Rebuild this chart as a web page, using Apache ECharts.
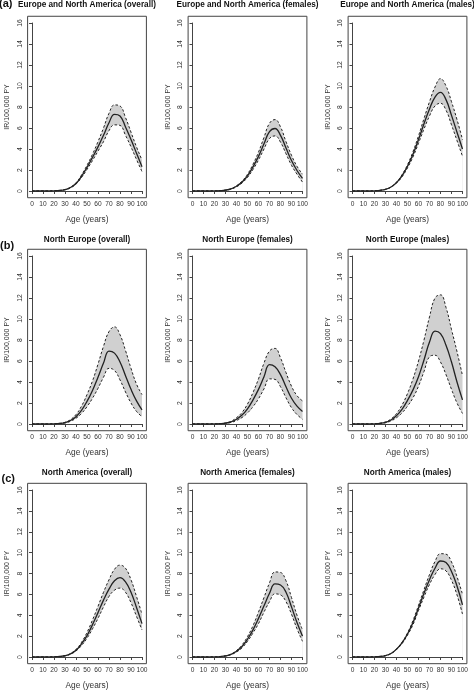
<!DOCTYPE html>
<html>
<head>
<meta charset="utf-8">
<script src="https://cdn.jsdelivr.net/npm/echarts@6/dist/echarts.min.js"></script>
<style>
html,body{margin:0;padding:0;background:#fff;}
#chart{width:474px;height:693px;}
</style>
</head>
<body>
<div id="chart"></div>
<script>
// Age (years) at which the curves are read
const ages = [0,5,10,15,20,25,30,35,40,45,50,55,60,65,70,75,80,85,90,95,100];

// (a) Europe and North America
const euNaOverallMean  = [0,0,0,0,0.02,0.05,0.13,0.33,0.72,1.4,2.25,3.2,4.2,5.3,6.5,7.3,7.15,6.1,4.9,3.6,2.3];
const euNaOverallUpper = [0,0,0,0,0.02,0.05,0.14,0.36,0.78,1.52,2.45,3.5,4.7,6.0,7.4,8.2,8.1,7.0,5.6,4.2,2.95];
const euNaOverallLower = [0,0,0,0,0.02,0.05,0.12,0.3,0.66,1.28,2.05,2.9,3.8,4.7,5.75,6.3,6.25,5.3,4.2,3.0,1.85];

const euNaFemalesMean  = [0,0,0,0,0.01,0.03,0.08,0.2,0.45,0.85,1.45,2.3,3.3,4.5,5.65,5.95,5.3,4.1,2.9,1.95,1.2];
const euNaFemalesUpper = [0,0,0,0,0.01,0.03,0.09,0.22,0.5,0.94,1.6,2.55,3.7,5.1,6.45,6.8,6.1,4.7,3.4,2.35,1.6];
const euNaFemalesLower = [0,0,0,0,0.01,0.03,0.07,0.18,0.4,0.76,1.3,2.05,2.95,4.0,5.0,5.25,4.65,3.55,2.45,1.6,0.85];

const euNaMalesMean  = [0,0,0,0,0.02,0.06,0.16,0.38,0.8,1.45,2.35,3.5,4.9,6.4,7.8,8.95,9.4,8.7,7.2,5.6,4.0];
const euNaMalesUpper = [0,0,0,0,0.02,0.06,0.17,0.4,0.85,1.55,2.5,3.75,5.25,6.9,8.5,9.9,10.7,10.0,8.5,6.8,4.9];
const euNaMalesLower = [0,0,0,0,0.02,0.06,0.15,0.36,0.75,1.35,2.2,3.25,4.55,5.9,7.15,8.1,8.35,7.7,6.3,4.8,3.3];

// (b) North Europe
const nEuOverallMean  = [0,0,0,0,0.02,0.05,0.13,0.33,0.7,1.3,2.15,3.2,4.45,5.8,6.95,6.75,5.9,4.6,3.3,2.2,1.35];
const nEuOverallUpper = [0,0,0,0,0.02,0.06,0.16,0.42,0.9,1.7,2.8,4.1,5.7,7.4,8.8,9.25,8.5,7.0,5.3,3.8,2.8];
const nEuOverallLower = [0,0,0,0,0.01,0.04,0.1,0.26,0.55,1.0,1.65,2.45,3.4,4.45,5.3,5.1,4.2,3.05,2.0,1.2,0.7];

const nEuFemalesMean  = [0,0,0,0,0.01,0.03,0.08,0.2,0.45,0.85,1.45,2.3,3.3,4.5,5.65,5.45,4.7,3.55,2.45,1.7,1.2];
const nEuFemalesUpper = [0,0,0,0,0.01,0.04,0.1,0.26,0.6,1.1,1.9,3.0,4.3,5.8,6.95,7.2,6.3,4.9,3.6,2.7,2.2];
const nEuFemalesLower = [0,0,0,0,0.01,0.02,0.06,0.15,0.33,0.62,1.05,1.65,2.4,3.35,4.3,4.25,3.55,2.5,1.55,0.9,0.45];

const nEuMalesMean  = [0,0,0,0,0.02,0.06,0.16,0.38,0.8,1.4,2.25,3.25,4.5,6.1,7.8,8.85,8.6,7.5,5.9,4.0,2.3];
const nEuMalesUpper = [0,0,0,0,0.03,0.08,0.2,0.48,1.0,1.8,2.9,4.3,6.0,8.0,10.2,12.0,12.3,11.1,9.0,6.9,4.6];
const nEuMalesLower = [0,0,0,0,0.01,0.04,0.12,0.29,0.6,1.05,1.7,2.5,3.6,5.0,6.4,6.55,5.9,4.7,3.3,2.0,1.0];

// (c) North America
const nAmOverallMean  = [0,0,0,0,0.02,0.05,0.12,0.3,0.65,1.25,2.05,3.1,4.25,5.45,6.5,7.3,7.6,7.2,6.2,4.75,3.2];
const nAmOverallUpper = [0,0,0,0,0.02,0.05,0.13,0.33,0.72,1.4,2.35,3.55,4.85,6.2,7.4,8.4,8.8,8.5,7.4,5.8,4.1];
const nAmOverallLower = [0,0,0,0,0.02,0.04,0.11,0.27,0.58,1.1,1.8,2.7,3.7,4.8,5.8,6.4,6.6,6.2,5.2,3.9,2.6];

const nAmFemalesMean  = [0,0,0,0,0.01,0.04,0.1,0.25,0.55,1.0,1.7,2.6,3.7,4.9,6.1,7.0,6.9,6.2,4.8,3.3,2.0];
const nAmFemalesUpper = [0,0,0,0,0.01,0.04,0.11,0.28,0.62,1.15,1.95,3.0,4.3,5.7,7.1,8.15,8.1,7.3,5.7,4.0,2.6];
const nAmFemalesLower = [0,0,0,0,0.01,0.03,0.09,0.22,0.48,0.88,1.5,2.3,3.2,4.3,5.3,6.05,5.95,5.3,4.1,2.7,1.5];

const nAmMalesMean  = [0,0,0,0,0.02,0.05,0.13,0.33,0.75,1.35,2.2,3.3,4.7,6.1,7.4,8.5,9.2,9.05,8.2,6.8,5.0];
const nAmMalesUpper = [0,0,0,0,0.02,0.05,0.14,0.35,0.78,1.42,2.3,3.5,4.95,6.45,7.9,9.15,9.9,9.85,9.1,7.7,6.0];
const nAmMalesLower = [0,0,0,0,0.02,0.05,0.12,0.31,0.72,1.28,2.1,3.1,4.45,5.75,6.95,7.9,8.45,8.25,7.35,5.95,4.1];

const panelTitles = [
  'Europe and North America (overall)', 'Europe and North America (females)', 'Europe and North America (males)',
  'North Europe (overall)', 'North Europe (females)', 'North Europe (males)',
  'North America (overall)', 'North America (females)', 'North America (males)'
];
const panelLetters = ['(a)', '(b)', '(c)'];
const xTicks = [0,10,20,30,40,50,60,70,80,90,100];
const yTicks = [0,2,4,6,8,10,12,14,16];
const xAxisName = 'Age (years)';
const yAxisName = 'IR/100,000 PY';

const panelData = [
  [euNaOverallMean, euNaOverallUpper, euNaOverallLower],
  [euNaFemalesMean, euNaFemalesUpper, euNaFemalesLower],
  [euNaMalesMean, euNaMalesUpper, euNaMalesLower],
  [nEuOverallMean, nEuOverallUpper, nEuOverallLower],
  [nEuFemalesMean, nEuFemalesUpper, nEuFemalesLower],
  [nEuMalesMean, nEuMalesUpper, nEuMalesLower],
  [nAmOverallMean, nAmOverallUpper, nAmOverallLower],
  [nAmFemalesMean, nAmFemalesUpper, nAmFemalesLower],
  [nAmMalesMean, nAmMalesUpper, nAmMalesLower]
];

// ---- layout ----
const FONT = '"Liberation Sans", Arial, Helvetica, sans-serif';
const colLeft = [32, 192.5, 352.5];
const plotW = 110;
const rowTop = [23, 256, 490];
const rowH = [168, 168, 167];
const titleY = [6, 240.5, 474];
const letterPos = [[-1, 4.5], [0, 246], [1.5, 479]];
const axisColor = '#444';
const textColor = '#333';

const pair = (ys) => ages.map((a, k) => [a, ys[k]]);

const grids = [], frameGrids = [], xAxes = [], yAxes = [], series = [], titles = [], graphics = [];

for (let i = 0; i < 9; i++) {
  const r = Math.floor(i / 3), c = i % 3;
  const L = colLeft[c], T = rowTop[r], H = rowH[r];
  const padX = plotW * 0.04, padY = H * 0.04;
  grids.push({ left: L, top: T, width: plotW, height: H, containLabel: false });
  frameGrids.push({ left: L - padX, top: T - padY, width: plotW + 2 * padX, height: H + 2 * padY,
    show: true, borderColor: axisColor, borderWidth: 1, backgroundColor: 'rgba(0,0,0,0)' });

  xAxes.push({
    type: 'value', gridIndex: i, min: xTicks[0], max: xTicks[xTicks.length - 1], interval: 10,
    offset: padY,
    axisLine: { show: true, lineStyle: { color: axisColor, width: 1 } },
    axisTick: { show: true, length: 3, lineStyle: { color: axisColor } },
    axisLabel: { show: true, margin: 3, fontSize: 6.6, color: textColor, fontFamily: FONT, hideOverlap: false },
    splitLine: { show: false },
    name: xAxisName, nameLocation: 'middle', nameGap: 18,
    nameTextStyle: { fontSize: 8.3, color: textColor, fontFamily: FONT }
  });
  yAxes.push({
    type: 'value', gridIndex: i, min: yTicks[0], max: yTicks[yTicks.length - 1], interval: 2,
    offset: padX,
    axisLine: { show: true, lineStyle: { color: axisColor, width: 1 } },
    axisTick: { show: true, length: 3, lineStyle: { color: axisColor } },
    axisLabel: { show: true, rotate: 90, margin: 4, fontSize: 6.8, color: textColor, fontFamily: FONT },
    splitLine: { show: false },
    name: yAxisName, nameLocation: 'middle', nameGap: 17,
    nameTextStyle: { fontSize: 7, color: textColor, fontFamily: FONT }
  });

  const [mean, upper, lower] = panelData[i];
  const base = { type: 'line', xAxisIndex: i, yAxisIndex: i, symbol: 'none', smooth: 0.45,
    silent: true, animation: false };
  series.push(Object.assign({}, base, { data: pair(upper), lineStyle: { width: 0, opacity: 0 },
    areaStyle: { color: '#d0d0d0', opacity: 1 }, z: 2 }));
  series.push(Object.assign({}, base, { data: pair(lower), lineStyle: { width: 0, opacity: 0 },
    areaStyle: { color: '#ffffff', opacity: 1 }, z: 2 }));
  series.push(Object.assign({}, base, { data: pair(upper),
    lineStyle: { width: 1, color: '#222', type: [2.5, 2] }, z: 3 }));
  series.push(Object.assign({}, base, { data: pair(lower),
    lineStyle: { width: 1, color: '#222', type: [2.5, 2] }, z: 3 }));
  series.push(Object.assign({}, base, { data: pair(mean),
    lineStyle: { width: 1.3, color: '#222' }, z: 4 }));

  titles.push({
    text: panelTitles[i], left: L + plotW / 2, top: titleY[r] - 5, textAlign: 'center', padding: 0,
    textStyle: { fontSize: 8.2, fontWeight: 'bold', color: '#111', fontFamily: FONT }
  });
}

for (let r = 0; r < 3; r++) {
  graphics.push({
    type: 'text', left: letterPos[r][0], top: letterPos[r][1] - 6,
    style: { text: panelLetters[r], fontSize: 11, fontWeight: 'bold', fill: '#111', fontFamily: FONT }
  });
}

const chart = echarts.init(document.getElementById('chart'), null, { renderer: 'canvas' });
chart.setOption({
  backgroundColor: '#ffffff',
  animation: false,
  title: titles,
  grid: grids.concat(frameGrids),
  xAxis: xAxes,
  yAxis: yAxes,
  series: series,
  graphic: graphics
});
</script>
</body>
</html>
